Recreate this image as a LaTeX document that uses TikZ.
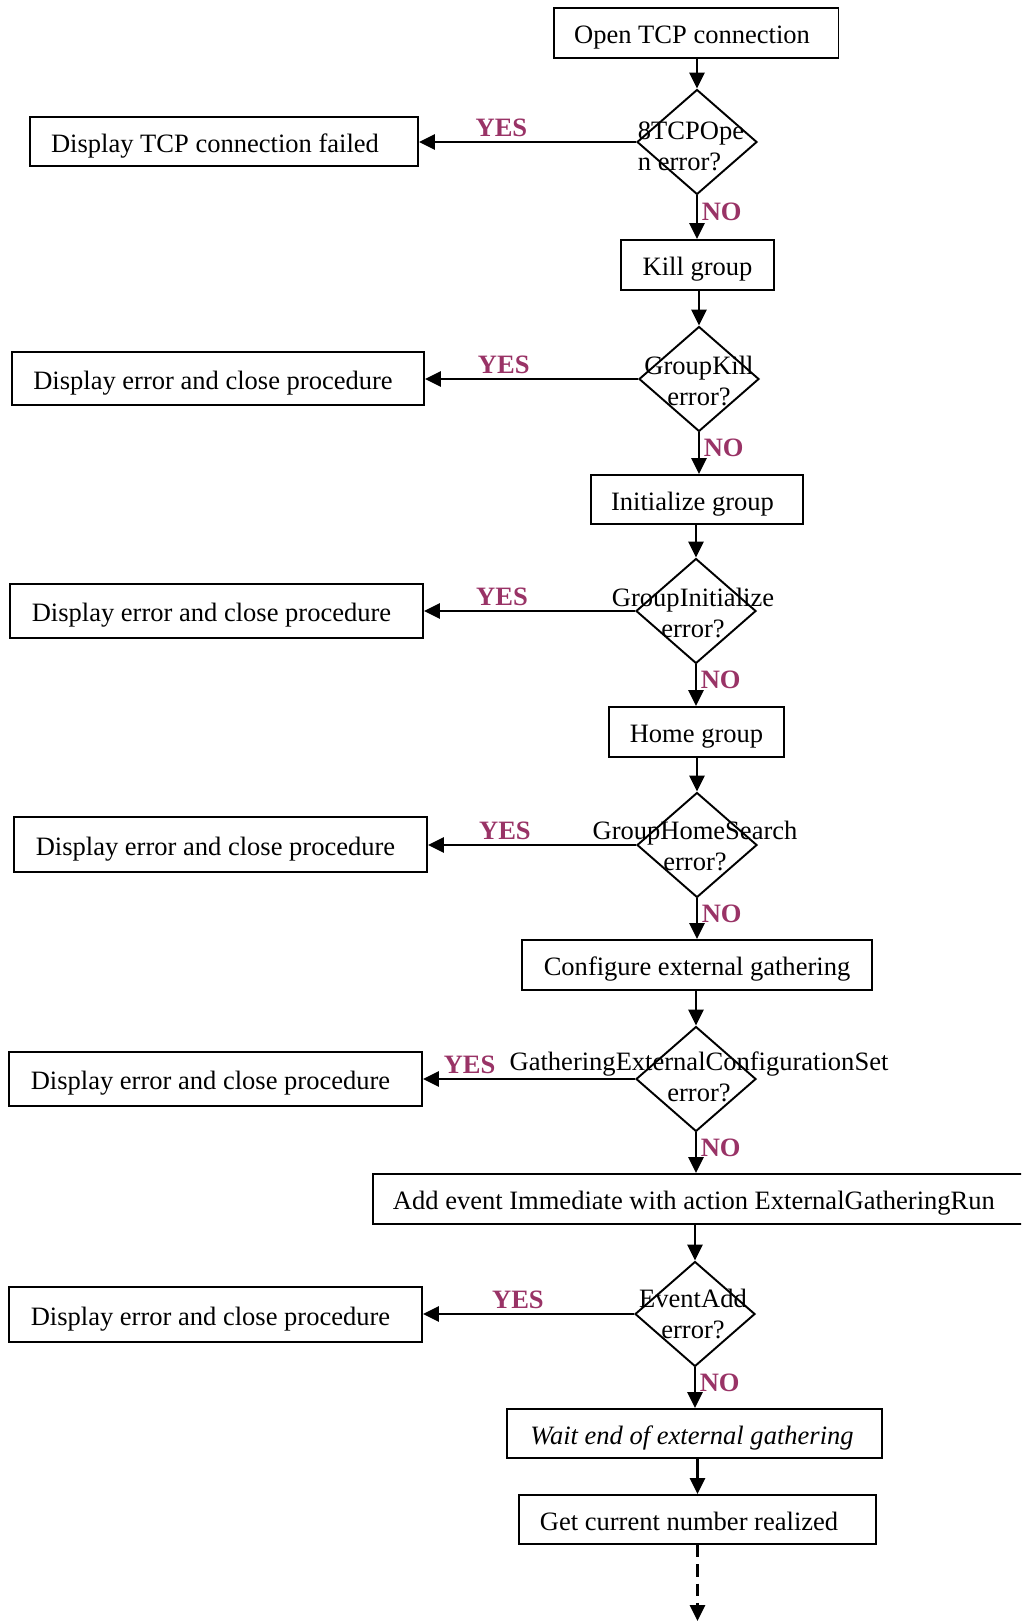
\documentclass[tikz,border=0pt]{standalone}
\usepackage{fontspec}
\setmainfont{Liberation Serif}
\usetikzlibrary{shapes.geometric,arrows.meta,positioning}
\definecolor{yesnocol}{RGB}{153,51,102}

\begin{document}
\begin{tikzpicture}[
  x=0.02cm, y=-0.02cm,
  procbox/.style={
    rectangle, draw, line width=1.1pt, inner sep=0pt,
    minimum height=1.0cm,
    text height=12pt, text depth=0pt,
    font=\fontsize{15.1}{17.6}\selectfont
  },
  decision/.style={diamond, draw, line width=1.1pt, inner sep=0pt,
    minimum width=2.4cm, minimum height=2.1cm},
  qtext/.style={align=center, inner sep=0pt, font=\fontsize{15.1}{17.6}\selectfont},
  flow/.style={-{Triangle[length=3.2mm,width=3mm]}, line width=1.5pt},
  yesno/.style={font=\bfseries\fontsize{15.1}{17.6}\selectfont, text=yesnocol, inner sep=2pt}
]
\useasboundingbox (0,0) rectangle (1021,1622);
\clip (0,0) rectangle (1021,1622);

% ---- Main column ----
\node[procbox, minimum width=5.7cm] (open) at (696,33) {Open TCP connection\kern0.16cm};
\node[decision] (d1) at (697,142) {};
\node[qtext, align=left] (q1) at (691,146) {8TCPOpe\\n error?};
\node[procbox, minimum width=3.06cm] (kill) at (697.5,265) {Kill group};
\node[decision] (d2) at (699,379) {};
\node[qtext] (q2) at (699,381) {GroupKill\\error?};
\node[procbox, minimum width=4.24cm, minimum height=0.98cm] (init) at (697,499.5) {Initialize group\kern0.18cm};
\node[decision] (d3) at (696,611) {};
\node[qtext] (q3) at (693,613) {GroupInitialize\\error?};
\node[procbox, minimum width=3.5cm] (home) at (696.5,732) {Home group};
\node[decision] (d4) at (697,845) {};
\node[qtext] (q4) at (695,846) {GroupHomeSearch\\error?};
\node[procbox, minimum width=7cm] (conf) at (697,965) {Configure external gathering};
\node[decision] (d5) at (696,1079) {};
\node[qtext] (q5) at (699,1077) {GatheringExternalConfigurationSet\\error?};
\node[procbox, anchor=west, minimum width=13.34cm] (addev) at (372,1199)
  {Add event Immediate with action ExternalGatheringRun\kern0.5cm};
\node[decision] (d6) at (695,1314) {};
\node[qtext] (q6) at (693,1314) {EventAdd\\error?};
\node[procbox, minimum width=7.5cm, minimum height=0.98cm] (wait) at (694.5,1433.5)
  {\textit{Wait end of external gathering}\kern0.1cm};
\node[procbox, minimum width=7.14cm, minimum height=0.98cm] (getcur) at (697.5,1519.5)
  {Get current number realized\kern0.34cm};
\coordinate (more) at (697.5,1621);

% ---- Left column (YES branches) ----
\node[procbox, minimum width=7.76cm, minimum height=0.98cm] (fail1) at (224,141.5) {Display TCP connection failed\kern0.36cm};
\node[procbox, minimum width=8.24cm, minimum height=1.06cm] (err2) at (218,378.5) {Display error and close procedure\kern0.2cm};
\node[procbox, minimum width=8.26cm, minimum height=1.08cm] (err3) at (216.5,611) {Display error and close procedure\kern0.2cm};
\node[procbox, minimum width=8.26cm, minimum height=1.1cm] (err4) at (220.5,844.5) {Display error and close procedure\kern0.2cm};
\node[procbox, minimum width=8.26cm, minimum height=1.08cm] (err5) at (215.5,1079) {Display error and close procedure\kern0.2cm};
\node[procbox, minimum width=8.26cm, minimum height=1.1cm] (err6) at (215.5,1314.5) {Display error and close procedure\kern0.2cm};

% ---- Plain steps ----
\foreach \a/\b in {open/d1, kill/d2, init/d3, home/d4, conf/d5, addev/d6, wait/getcur} {
  \draw[flow] (\a.south -| \b.north) -- (\b.north);
}

% ---- NO branches ----
\foreach \d/\n in {d1/kill, d2/init, d3/home, d4/conf, d5/addev, d6/wait} {
  \draw[flow] (\d.south) -- node[yesno, right, pos=0.38]{NO} (\d.south |- \n.north);
}

% ---- YES branches ----
\foreach \d/\e/\p in {d1/fail1/0.62, d2/err2/0.63, d3/err3/0.63, d4/err4/0.63, d5/err5/0.78, d6/err6/0.55} {
  \draw[flow] (\d.west) -- node[yesno, above, pos=\p]{YES} (\d.west -| \e.east);
}

% ---- continues ----
\draw[flow, dash pattern=on 7pt off 4pt] (getcur.south) -- (more);

\end{tikzpicture}
\end{document}
